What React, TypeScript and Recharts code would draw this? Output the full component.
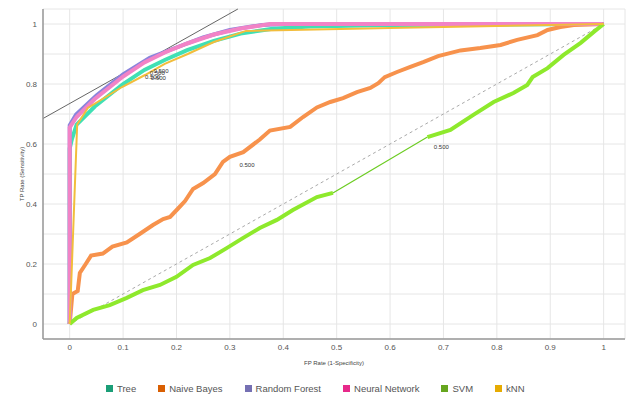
import React from 'react';
import {
  ComposedChart,
  Line,
  Scatter,
  XAxis,
  YAxis,
  CartesianGrid,
  ReferenceLine,
} from 'recharts';

type Pt = { x: number; y: number };
const toPts = (arr: number[][]): Pt[] => arr.map(([x, y]) => ({ x, y }));

// ROC curves, [FP rate, TP rate]
const treeCurve = [
  [0, 0], [0, 0.585], [0.004, 0.615], [0.013, 0.665], [0.047, 0.725], [0.1, 0.8],
  [0.14, 0.847], [0.178, 0.88], [0.22, 0.913], [0.27, 0.944], [0.32, 0.968],
  [0.38, 0.984], [0.45, 0.992], [0.6, 0.997], [1, 1],
];
const naiveBayesCurve = [
  [0, 0], [0.005, 0.1], [0.015, 0.11], [0.019, 0.17], [0.03, 0.2], [0.04, 0.228],
  [0.062, 0.235], [0.08, 0.258], [0.107, 0.272], [0.131, 0.3], [0.156, 0.33],
  [0.175, 0.35], [0.188, 0.357], [0.203, 0.385], [0.216, 0.41], [0.231, 0.45],
  [0.25, 0.47], [0.272, 0.5], [0.287, 0.54], [0.3, 0.557], [0.325, 0.573],
  [0.356, 0.615], [0.375, 0.645], [0.413, 0.657], [0.437, 0.69], [0.463, 0.722],
  [0.488, 0.74], [0.512, 0.753], [0.538, 0.773], [0.563, 0.787], [0.578, 0.803],
  [0.59, 0.823], [0.613, 0.84], [0.638, 0.857], [0.662, 0.873], [0.69, 0.893],
  [0.732, 0.912], [0.769, 0.92], [0.807, 0.93], [0.838, 0.947], [0.876, 0.963],
  [0.895, 0.98], [0.919, 0.99], [0.944, 0.997], [1, 1],
];
const randomForestCurve = [
  [0, 0], [0, 0.662], [0.012, 0.698], [0.05, 0.762], [0.1, 0.832], [0.15, 0.887],
  [0.19, 0.915], [0.25, 0.955], [0.3, 0.98], [0.36, 0.997], [0.4, 1], [1, 1],
];
const neuralNetCurve = [
  [0, 0], [0, 0.655], [0.013, 0.69], [0.047, 0.75], [0.1, 0.825], [0.14, 0.872],
  [0.178, 0.905], [0.22, 0.935], [0.27, 0.965], [0.32, 0.985], [0.375, 1], [1, 1],
];
const svmCurveA = [
  [0, 0], [0.013, 0.02], [0.044, 0.047], [0.075, 0.063], [0.107, 0.087],
  [0.137, 0.113], [0.169, 0.13], [0.2, 0.157], [0.231, 0.197], [0.263, 0.22],
  [0.294, 0.253], [0.325, 0.287], [0.356, 0.32], [0.388, 0.347], [0.418, 0.38],
  [0.463, 0.423], [0.493, 0.437],
];
const svmJump = [[0.493, 0.437], [0.67, 0.623]];
const svmCurveB = [
  [0.67, 0.623], [0.713, 0.647], [0.756, 0.697], [0.794, 0.74], [0.831, 0.77],
  [0.857, 0.797], [0.867, 0.823], [0.895, 0.853], [0.925, 0.897], [0.957, 0.937],
  [0.981, 0.973], [1, 1],
];
const knnCurve = [
  [0, 0], [0.014, 0.665], [0.034, 0.72], [0.098, 0.79], [0.141, 0.83],
  [0.178, 0.867], [0.221, 0.9], [0.27, 0.94], [0.33, 0.977], [0.6, 0.987], [1, 1],
];

const thresholdLabels = [
  { x: 0.141, y: 0.823, text: '0.500' },
  { x: 0.15, y: 0.836, text: '0.500' },
  { x: 0.157, y: 0.842, text: '0.500' },
  { x: 0.152, y: 0.818, text: '0.600' },
  { x: 0.318, y: 0.53, text: '0.500' },
  { x: 0.682, y: 0.59, text: '0.500' },
];

const seriesNames = ['Tree', 'Naive Bayes', 'Random Forest', 'Neural Network', 'SVM', 'kNN'];
const legendColors = ['#1b9e77', '#d95f02', '#7570b3', '#e7298a', '#66a61e', '#e6ab02'];
const curveColors = ['#40e0b4', '#f7924c', '#8a84dc', '#f283c6', '#8ee92c', '#f2bd3c'];

const xTicks = [0, 0.1, 0.2, 0.3, 0.4, 0.5, 0.6, 0.7, 0.8, 0.9, 1];
const xTickLabels = ['0', '0.1', '0.2', '0.3', '0.4', '0.5', '0.6', '0.7', '0.8', '0.9', '1'];
const yTicks = [0, 0.1, 0.2, 0.3, 0.4, 0.5, 0.6, 0.7, 0.8, 0.9, 1];
const yTickLabels = ['0', '', '0.2', '', '0.4', '', '0.6', '', '0.8', '', '1'];

const font = 'Arial, "Liberation Sans", sans-serif';
const tickStyle = { fontSize: 8, fill: '#555', fontFamily: font };

const LabelText = (props: any) => (
  <text x={props.cx} y={props.cy} fontSize={6} fill="#333" fontFamily={font} dominantBaseline="middle">
    {props.payload.text}
  </text>
);

export default function App() {
  const curves = [treeCurve, naiveBayesCurve, randomForestCurve, neuralNetCurve];
  return (
    <div style={{ position: 'relative', width: 628, height: 398, background: '#fff', overflow: 'hidden' }}>
      <style>{`body{margin:0}`}</style>
      <ComposedChart width={628} height={398} margin={{ top: 9, right: 3, bottom: 39, left: 0 }}>
        <CartesianGrid stroke="#e6e6e6" />
        <XAxis
          type="number"
          dataKey="x"
          domain={[-0.05, 1.04]}
          ticks={xTicks}
          tickFormatter={(v: number) => xTickLabels[xTicks.indexOf(v)] ?? ''}
          tickLine={false}
          tickSize={3}
          axisLine={{ stroke: '#999', strokeWidth: 1.5 }}
          tick={tickStyle}
          height={20}
          allowDataOverflow
          label={{ value: 'FP Rate (1-Specificity)', position: 'bottom', offset: 2, fontSize: 6, fill: '#444', fontFamily: font }}
        />
        <YAxis
          type="number"
          dataKey="y"
          domain={[-0.05, 1.05]}
          ticks={yTicks}
          tickFormatter={(v: number) => yTickLabels[yTicks.indexOf(v)] ?? ''}
          tickLine={false}
          tickSize={4}
          axisLine={{ stroke: '#999', strokeWidth: 1.5 }}
          tick={tickStyle}
          width={43}
          allowDataOverflow
          label={{ value: 'TP Rate (Sensitivity)', angle: -90, position: 'center', fontSize: 6, fill: '#444', fontFamily: font }}
        />
        <ReferenceLine
          segment={[{ x: 0, y: 0 }, { x: 1, y: 1 }]}
          stroke="#aaa"
          strokeDasharray="3 3"
        />
        <ReferenceLine
          segment={[{ x: -0.05, y: 0.685 }, { x: 0.315, y: 1.05 }]}
          stroke="#666"
          strokeWidth={1}
        />
        {curves.map((c, i) => (
          <Line
            key={seriesNames[i]}
            data={toPts(c)}
            dataKey="y"
            type="linear"
            stroke={curveColors[i]}
            strokeWidth={4}
            dot={false}
            isAnimationActive={false}
          />
        ))}
        <Line data={toPts(svmCurveA)} dataKey="y" type="linear" stroke={curveColors[4]} strokeWidth={4} dot={false} isAnimationActive={false} />
        <Line data={toPts(svmJump)} dataKey="y" type="linear" stroke="#6ccc22" strokeWidth={1.2} dot={false} isAnimationActive={false} />
        <Line data={toPts(svmCurveB)} dataKey="y" type="linear" stroke={curveColors[4]} strokeWidth={4} dot={false} isAnimationActive={false} />
        <Line data={toPts(knnCurve)} dataKey="y" type="linear" stroke={curveColors[5]} strokeWidth={2} dot={false} isAnimationActive={false} />
        <Scatter data={thresholdLabels} dataKey="y" shape={LabelText} isAnimationActive={false} />
      </ComposedChart>
      <div
        style={{
          position: 'absolute',
          left: 106,
          top: 383,
          display: 'flex',
          gap: 22,
          fontFamily: font,
          fontSize: 9.5,
          color: '#555',
          alignItems: 'center',
        }}
      >
        {seriesNames.map((n, i) => (
          <div key={n} style={{ display: 'flex', alignItems: 'center', gap: 4 }}>
            <span style={{ width: 7, height: 7, background: legendColors[i], display: 'inline-block' }} />
            <span>{n}</span>
          </div>
        ))}
      </div>
    </div>
  );
}
